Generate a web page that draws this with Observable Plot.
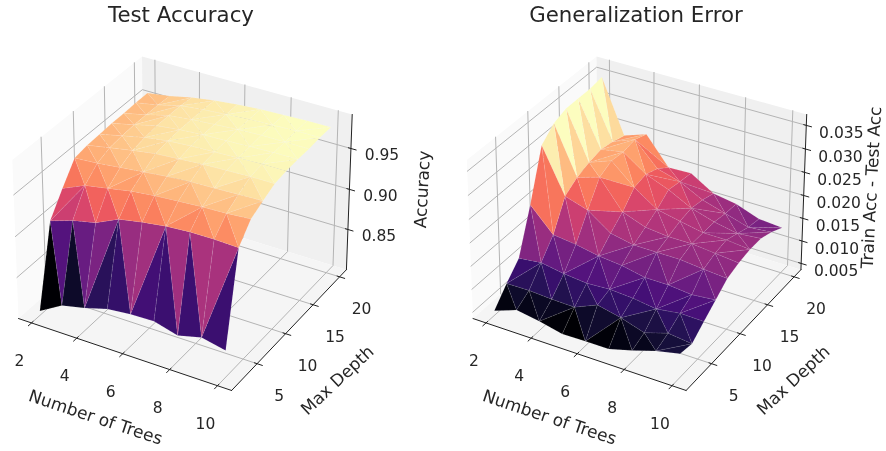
<!DOCTYPE html>
<html><head><meta charset="utf-8">
<script src="https://cdn.jsdelivr.net/npm/d3@7"></script>
<script src="https://cdn.jsdelivr.net/npm/@observablehq/plot@0.6"></script>
<style>
html,body{margin:0;padding:0;background:#fff;}
#wrap{display:flex;width:886px;height:451px;overflow:hidden;}
svg{display:block;overflow:visible;filter:blur(.45px);}
</style></head>
<body><div id="wrap"></div>
<script>
const trees=[2,3,4,5,6,7,8,9,10];
const depths=[2,4,6,8,10,12,14,16,18,20];
const xTicks=[2,4,6,8,10];
const yTicks=[5,10,15,20];
const accTicks=[0.85,0.90,0.95];
const errTicks=[0.005,0.010,0.015,0.020,0.025,0.030,0.035];
// one row per max depth, one column per number of trees
const testAccuracy=[
[.8046,.8207,.827,.835,.838,.839,.831,.838,.832],
[.902,.911,.917,.930,.935,.939,.941,.941,.940],
[.928,.94,.945,.95,.953,.955,.957,.958,.96],
[.952,.954,.957,.96,.963,.965,.966,.967,.968],
[.955,.96,.965,.969,.971,.973,.974,.975,.975],
[.956,.962,.968,.972,.974,.975,.976,.977,.977],
[.957,.963,.97,.973,.975,.976,.977,.978,.978],
[.957,.963,.97,.973,.975,.977,.978,.978,.978],
[.958,.963,.97,.973,.975,.977,.978,.979,.979],
[.958,.962,.968,.972,.975,.977,.978,.979,.979]];
const generalizationError=[
[.0046,.0064,.0056,.0045,.0046,.0046,.0060,.0076,.0087],
[.0081,.0082,.0079,.0078,.0099,.0088,.0072,.0088,.0082],
[.0112,.0118,.0110,.0105,.0108,.0105,.0098,.0105,.0104],
[.0205,.0155,.0149,.0140,.0135,.0125,.0125,.0120,.0125],
[.0310,.0215,.0200,.0165,.0155,.0155,.0155,.0150,.0146],
[.0335,.0233,.0248,.0188,.0170,.0165,.0165,.0160,.0155],
[.0345,.0243,.0261,.0218,.0185,.0175,.0165,.0165,.0160],
[.0345,.0249,.0258,.0224,.0205,.0180,.0165,.0155,.0160],
[.0345,.0244,.0263,.0214,.0200,.0175,.0160,.0145,.0150],
[.0350,.0236,.0253,.0194,.0196,.0166,.0158,.0140,.0136]];
// split of each grid cell into two triangles: M = lower-left to upper-right, A = the other diagonal
const diagonals=["AAMAMAAM","MAAAAMAA","AAMAMAMM","AAAMMAMA","AAMAMMAA","AAMMAAMM","AMAAMAMA","AMAMAMAM","AMMAMAAM"];

const xLim=[1.6,10.4], yLim=[1.1,20.9];
const pad=f=>(1/48+f)/(1+1/24);
const frac=(v,l)=>pad((v-l[0])/(l[1]-l[0]));
const zBox=0.72;
// default 3D view: elevation 30, azimuth -60
const U=[.866025,.5,0],V=[-.25,.433013,.866025],N=[.433013,-.75,.5],DIST=10;
function proj(fx,fy,fz){
  const p=[fx-.5,fy-.5,fz*zBox-.5];
  const dot=a=>a[0]*p[0]+a[1]*p[1]+a[2]*p[2];
  const d=DIST-dot(N), f=DIST/d;
  return {px:dot(U)*f,py:dot(V)*f,depth:d};
}
function seg(id,pts){return pts.map(q=>({id,...proj(...q)}));}

function panel(o){
  const zf=v=>(v-o.zLim[0])/(o.zLim[1]-o.zLim[0]);
  const P=(t,d,v)=>proj(frac(t,xLim),frac(d,yLim),zf(v));
  const tris=[];
  const node=(i,j)=>({...P(trees[i],depths[j],o.values[j][i]),v:o.values[j][i]});
  diagonals.forEach((row,j)=>{[...row].forEach((c,i)=>{
    const a=node(i,j),b=node(i+1,j),e=node(i+1,j+1),g=node(i,j+1);
    (c==="M"?[[a,b,e],[a,e,g]]:[[a,b,g],[b,e,g]]).forEach(t=>tris.push(t));
  });});
  tris.sort((p,q)=>d3.sum(q,n=>n.depth)-d3.sum(p,n=>n.depth));
  const surface=[];
  tris.forEach((t,k)=>{const avg=d3.mean(t,n=>n.v);t.forEach(n=>surface.push({id:k,px:n.px,py:n.py,avg}));});
  const pane=(pts)=>seg(0,pts);
  const grid=[];
  let gid=0;
  xTicks.forEach(t=>{const f=frac(t,xLim);grid.push(...seg(gid++,[[f,0,0],[f,1,0],[f,1,1]]));});
  yTicks.forEach(d=>{const f=frac(d,yLim);grid.push(...seg(gid++,[[1,f,0],[0,f,0],[0,f,1]]));});
  o.zTicks.forEach(z=>{const f=zf(z);grid.push(...seg(gid++,[[0,0,f],[0,1,f],[1,1,f]]));});
  const axes=[...seg(0,[[0,0,0],[1,0,0]]),...seg(1,[[1,0,0],[1,1,0]]),...seg(2,[[1,1,0],[1,1,1]])];
  const ticks=[];let tid=0;
  xTicks.forEach(t=>{const f=frac(t,xLim);ticks.push(...seg(tid++,[[f,.012,0],[f,-.024,0]]));});
  yTicks.forEach(d=>{const f=frac(d,yLim);ticks.push(...seg(tid++,[[.988,f,0],[1.024,f,0]]));});
  o.zTicks.forEach(z=>{const f=zf(z);ticks.push(...seg(tid++,[[.988,1,f],[1.024,1,f]]));});
  const xLab=xTicks.map(t=>({...proj(frac(t,xLim),0,0),s:String(t)}));
  const yLab=yTicks.map(d=>({...proj(1,frac(d,yLim),0),s:String(d)}));
  const zLab=o.zTicks.map(z=>({...proj(1,1,zf(z)),s:z.toFixed(o.digits)}));
  const font={fontFamily:"DejaVu Sans",fontSize:15.5,fill:"#262626"};
  const fixed={frameAnchor:"top-left",textAnchor:"middle",lineAnchor:"middle",fontFamily:"DejaVu Sans",fill:"#262626",fontSize:17};
  const ext=d3.extent(surface,d=>d.avg);
  return Plot.plot({
    width:443,height:451,margin:0,
    x:{domain:[-1,1],range:[o.ox-246,o.ox+246],axis:null},
    y:{domain:[-1,1],range:[185.5+o.sy,185.5-o.sy],axis:null},
    color:{type:"linear",scheme:"magma",clamp:true,domain:[ext[0],o.colorMax??ext[1]]},
    marks:[
      Plot.line(pane([[0,0,0],[0,1,0],[0,1,1],[0,0,1]]),{x:"px",y:"py",fill:"#fafafa",stroke:"none",curve:"linear-closed"}),
      Plot.line(pane([[0,1,0],[1,1,0],[1,1,1],[0,1,1]]),{x:"px",y:"py",fill:"#f0f0f0",stroke:"none",curve:"linear-closed"}),
      Plot.line(pane([[0,0,0],[1,0,0],[1,1,0],[0,1,0]]),{x:"px",y:"py",fill:"#f5f5f5",stroke:"none",curve:"linear-closed"}),
      Plot.line(grid,{x:"px",y:"py",z:"id",stroke:"#b4b4b4",strokeWidth:1}),
      Plot.line(axes,{x:"px",y:"py",z:"id",stroke:"#222",strokeWidth:1}),
      Plot.line(ticks,{x:"px",y:"py",z:"id",stroke:"#222",strokeWidth:1}),
      Plot.line(surface,{x:"px",y:"py",z:"id",fill:"avg",stroke:"#fff",strokeOpacity:.16,strokeWidth:.6,strokeDasharray:"3,2",curve:"linear-closed"}),
      Plot.text(xLab,{x:"px",y:"py",text:"s",dx:-12,dy:38,...font}),
      Plot.text(yLab,{x:"px",y:"py",text:"s",dx:22,dy:32,...font}),
      Plot.text(zLab,{x:"px",y:"py",text:"s",dx:o.zDx,dy:o.zDy,...font}),
      Plot.text([o.title],{...fixed,dx:o.titleX,dy:15,fontSize:21.3}),
      Plot.text(["Number of Trees"],{...fixed,dx:o.labX,dy:417,rotate:18.5}),
      Plot.text(["Max Depth"],{...fixed,dx:o.labY,dy:380,rotate:-43}),
      Plot.text([o.zLabel],{...fixed,dx:o.labZ,dy:o.labZy,rotate:-87})
    ]
  });
}
const wrap=document.getElementById("wrap");
wrap.append(panel({values:testAccuracy,zLim:[.799,.991],zTicks:accTicks,digits:2,ox:184.5,sy:255,zDx:31,zDy:7,
  title:"Test Accuracy",titleX:180.5,labX:95,labY:337,labZ:422,labZy:189,zLabel:"Accuracy"}));
wrap.append(panel({values:generalizationError,zLim:[.0036,.0373],zTicks:errTicks,digits:3,ox:196,sy:255,zDx:35,zDy:8,colorMax:.0295,
  title:"Generalization Error",titleX:192.5,labX:106,labY:350,labZ:428,labZy:187,zLabel:"Train Acc - Test Acc"}));
</script></body></html>
